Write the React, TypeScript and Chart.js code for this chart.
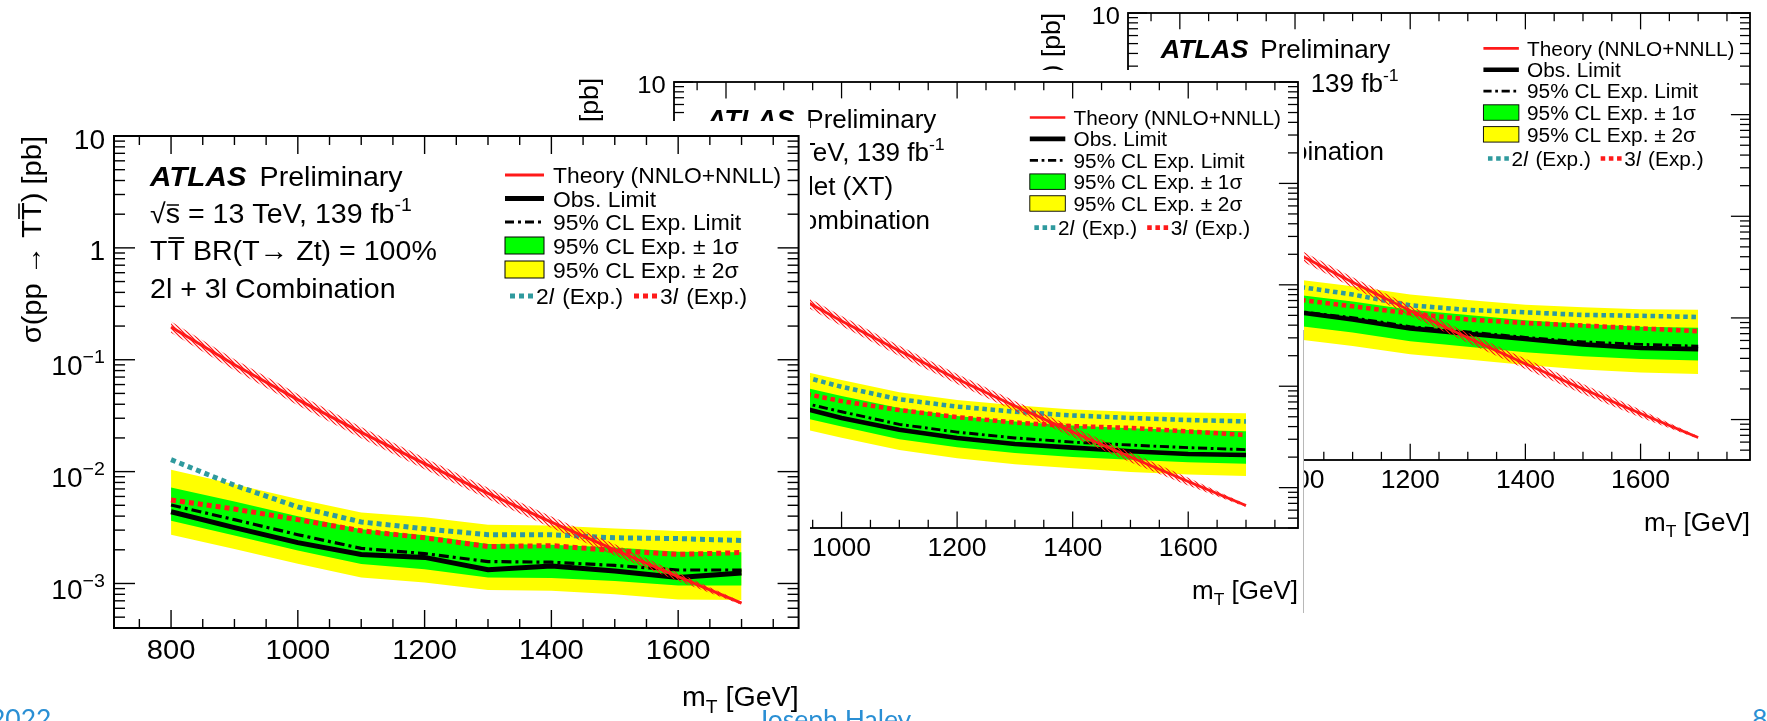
import React, { useEffect, useRef } from "react";
import { Chart, registerables } from "chart.js";

Chart.register(...registerables);

// ---------------- data ----------------
const masses = [800, 900, 1000, 1100, 1200, 1300, 1400, 1500, 1600, 1700];
const xMajorTicks = [800, 1000, 1200, 1400, 1600];
const yDecades = [10, 1, 0.1, 0.01, 0.001];
const yDecadeBase = ["10", "1", "10", "10", "10"];
const yDecadeExp = ["", "", "−1", "−2", "−3"];
const X_MIN = 710;
const X_MAX = 1790;
const Y_MIN = 4e-4;
const Y_MAX = 10;

// theory cross-section (NNLO+NNLL), pb
const theory = [0.196, 0.0903, 0.044, 0.0224, 0.0118, 0.00639, 0.00354, 0.002, 0.00115, 0.000666];
const theoryHi = [0.2195, 0.1011, 0.0493, 0.0251, 0.0132, 0.00716, 0.00396, 0.00224, 0.00125, 0.000686];
const theoryLo = [0.1744, 0.0804, 0.0392, 0.0199, 0.0105, 0.00569, 0.00315, 0.00178, 0.00105, 0.000646];

// front panel: BR(T -> Zt) = 100%
const ztObs = [4.38e-3, 3.16e-3, 2.32e-3, 1.82e-3, 1.71e-3, 1.33e-3, 1.43e-3, 1.29e-3, 1.13e-3, 1.24e-3];
const ztExp = [5.03e-3, 3.72e-3, 2.73e-3, 2.06e-3, 1.85e-3, 1.57e-3, 1.55e-3, 1.45e-3, 1.32e-3, 1.32e-3];
const ztOneUp = [7.2e-3, 5.4e-3, 4.0e-3, 3.05e-3, 2.7e-3, 2.25e-3, 2.22e-3, 2.1e-3, 1.92e-3, 1.9e-3];
const ztOneDn = [3.63e-3, 2.68e-3, 1.97e-3, 1.49e-3, 1.34e-3, 1.13e-3, 1.12e-3, 1.05e-3, 0.96e-3, 0.96e-3];
const ztTwoUp = [1.04e-2, 7.7e-3, 5.7e-3, 4.3e-3, 3.9e-3, 3.35e-3, 3.3e-3, 3.1e-3, 2.95e-3, 2.96e-3];
const ztTwoDn = [2.73e-3, 2.03e-3, 1.5e-3, 1.13e-3, 1.02e-3, 8.75e-4, 8.6e-4, 8.0e-4, 7.2e-4, 7.1e-4];
const zt2l = [1.28e-2, 7.55e-3, 4.83e-3, 3.55e-3, 3.08e-3, 2.73e-3, 2.73e-3, 2.56e-3, 2.52e-3, 2.42e-3];
const zt3l = [5.58e-3, 4.63e-3, 3.72e-3, 2.96e-3, 2.56e-3, 2.14e-3, 2.18e-3, 1.97e-3, 1.82e-3, 1.89e-3];

// middle panel: doublet (XT)
const xtObs = [9.5e-3, 6.8e-3, 4.87e-3, 3.73e-3, 3.09e-3, 2.7e-3, 2.48e-3, 2.29e-3, 2.15e-3, 2.1e-3];
const xtExp = [1.05e-2, 7.6e-3, 5.6e-3, 4.21e-3, 3.53e-3, 3.09e-3, 2.81e-3, 2.63e-3, 2.48e-3, 2.37e-3];
const xtOneUp = [1.5e-2, 1.08e-2, 8.0e-3, 6.1e-3, 5.1e-3, 4.5e-3, 4.1e-3, 3.85e-3, 3.7e-3, 3.6e-3];
const xtOneDn = [7.5e-3, 5.4e-3, 4.0e-3, 3.0e-3, 2.5e-3, 2.2e-3, 2.0e-3, 1.88e-3, 1.78e-3, 1.72e-3];
const xtTwoUp = [2.15e-2, 1.55e-2, 1.15e-2, 8.7e-3, 7.3e-3, 6.5e-3, 5.9e-3, 5.6e-3, 5.5e-3, 5.4e-3];
const xtTwoDn = [5.8e-3, 4.2e-3, 3.1e-3, 2.35e-3, 1.95e-3, 1.7e-3, 1.55e-3, 1.43e-3, 1.35e-3, 1.3e-3];
const xt2l = [1.95e-2, 1.4e-2, 9.86e-3, 7.43e-3, 6.3e-3, 5.6e-3, 5.15e-3, 4.87e-3, 4.64e-3, 4.5e-3];
const xt3l = [1.2e-2, 9.3e-3, 7.13e-3, 5.82e-3, 4.96e-3, 4.39e-3, 4.04e-3, 3.88e-3, 3.58e-3, 3.3e-3];

// back panel: singlet
const sgObs = [1.9e-2, 1.45e-2, 1.15e-2, 9.66e-3, 7.89e-3, 7.0e-3, 6.19e-3, 5.49e-3, 5.06e-3, 4.93e-3];
const sgExp = [1.95e-2, 1.5e-2, 1.17e-2, 1.005e-2, 8.2e-3, 7.28e-3, 6.44e-3, 5.81e-3, 5.49e-3, 5.27e-3];
const sgOneUp = [2.8e-2, 2.15e-2, 1.7e-2, 1.45e-2, 1.2e-2, 1.07e-2, 9.5e-3, 8.7e-3, 8.2e-3, 8.0e-3];
const sgOneDn = [1.4e-2, 1.08e-2, 8.4e-3, 7.2e-3, 5.9e-3, 5.2e-3, 4.6e-3, 4.2e-3, 3.95e-3, 3.81e-3];
const sgTwoUp = [4.0e-2, 3.1e-2, 2.4e-2, 2.05e-2, 1.7e-2, 1.5e-2, 1.35e-2, 1.27e-2, 1.22e-2, 1.2e-2];
const sgTwoDn = [1.05e-2, 8.0e-3, 6.2e-3, 5.3e-3, 4.4e-3, 3.9e-3, 3.45e-3, 3.1e-3, 2.9e-3, 2.8e-3];
const sg2l = [3.3e-2, 2.55e-2, 2.05e-2, 1.7e-2, 1.33e-2, 1.2e-2, 1.135e-2, 1.07e-2, 1.05e-2, 1.02e-2];
const sg3l = [2.3e-2, 1.85e-2, 1.53e-2, 1.3e-2, 1.11e-2, 9.66e-3, 8.91e-3, 8.41e-3, 7.89e-3, 7.4e-3];

const legendLabels = ["Theory (NNLO+NNLL)", "Obs. Limit", "95% CL Exp. Limit", "95% CL Exp. ± 1σ", "95% CL Exp. ± 2σ"];

// ---------------- styles ----------------
const FONT = '"Liberation Sans", Arial, Helvetica, "DejaVu Sans", sans-serif';
const HS = 1.04;
const C_YELLOW = "#ffff00";
const C_GREEN = "#00ff00";
const C_TEAL = "#2f9a9e";
const C_RED = "#ff1a1a";

type Series = { obs: number[]; exp: number[]; oneUp: number[]; oneDn: number[]; twoUp: number[]; twoDn: number[]; l2: number[]; l3: number[] };
type PanelDef = {
  key: string;
  z: number;
  img: { x: number; y: number; w: number; h: number };
  frame: { l: number; t: number; r: number; b: number };
  yTitleX: number;
  yTitleDy: number;
  s: number;
  kind: "zt" | "xt" | "sg";
  series: Series;
};

const PANELS: PanelDef[] = [
  {
    key: "back", z: 1,
    img: { x: 1000, y: 0, w: 767, h: 560 },
    frame: { l: 1128, t: 13, r: 1750, b: 460 },
    yTitleX: 1060, yTitleDy: 0,
    s: 0.909, kind: "sg",
    series: { obs: sgObs, exp: sgExp, oneUp: sgOneUp, oneDn: sgOneDn, twoUp: sgTwoUp, twoDn: sgTwoDn, l2: sg2l, l3: sg3l },
  },
  {
    key: "middle", z: 2,
    img: { x: 560, y: 70, w: 744, h: 543 },
    frame: { l: 674, t: 82, r: 1298, b: 528 },
    yTitleX: 598, yTitleDy: -4,
    s: 0.91, kind: "xt",
    series: { obs: xtObs, exp: xtExp, oneUp: xtOneUp, oneDn: xtOneDn, twoUp: xtTwoUp, twoDn: xtTwoDn, l2: xt2l, l3: xt3l },
  },
  {
    key: "front", z: 3,
    img: { x: 0, y: 121, w: 810, h: 600 },
    frame: { l: 114, t: 136, r: 798.6, b: 628 },
    yTitleX: 41, yTitleDy: 0,
    s: 1, kind: "zt",
    series: { obs: ztObs, exp: ztExp, oneUp: ztOneUp, oneDn: ztOneDn, twoUp: ztTwoUp, twoDn: ztTwoDn, l2: zt2l, l3: zt3l },
  },
];

const pts = (arr: number[]) => masses.map((m, i) => ({ x: m, y: arr[i] }));

function font(size: number, bold = false, italic = false) {
  return `${italic ? "italic " : ""}${bold ? "bold " : ""}${size.toFixed(1)}px ${FONT}`;
}

type Run = { t: string; f: string; dy?: number; over?: boolean; gap?: number };

function runsWidth(ctx: CanvasRenderingContext2D, runs: Run[]) {
  let w = 0;
  for (const r of runs) {
    ctx.font = r.f;
    w += ctx.measureText(r.t).width * HS + (r.gap || 0);
  }
  return w;
}

function drawRuns(ctx: CanvasRenderingContext2D, x: number, y: number, runs: Run[], lw = 1.5) {
  let cx = x;
  for (const r of runs) {
    ctx.font = r.f;
    const m = ctx.measureText(r.t);
    const w = m.width;
    ctx.save();
    ctx.translate(cx, y + (r.dy || 0));
    ctx.scale(HS, 1);
    ctx.fillText(r.t, 0, 0);
    if (r.over) {
      const a = m.actualBoundingBoxAscent + 3;
      ctx.lineWidth = lw;
      ctx.beginPath();
      ctx.moveTo(1, -a);
      ctx.lineTo(w - 1, -a);
      ctx.stroke();
    }
    ctx.restore();
    cx += w * HS + (r.gap || 0);
  }
  return cx;
}

function hatchPattern(ctx: CanvasRenderingContext2D) {
  const c = document.createElement("canvas");
  const n = 4;
  c.width = n;
  c.height = n;
  const g = c.getContext("2d")!;
  g.strokeStyle = "rgba(255,20,20,1)";
  g.lineWidth = 1.1;
  g.beginPath();
  g.moveTo(-1, -1);
  g.lineTo(n + 1, n + 1);
  g.moveTo(-1, n - 1);
  g.lineTo(1, n + 1);
  g.moveTo(n - 1, -1);
  g.lineTo(n + 1, 1);
  g.stroke();
  return ctx.createPattern(c, "repeat") as CanvasPattern;
}

function line(ctx: CanvasRenderingContext2D, x1: number, y1: number, x2: number, y2: number) {
  ctx.beginPath();
  ctx.moveTo(x1, y1);
  ctx.lineTo(x2, y2);
  ctx.stroke();
}

function drawDecor(chart: Chart, def: PanelDef) {
  const ctx = chart.ctx;
  const { left: L, top: T, right: R, bottom: B } = chart.chartArea;
  const s = def.s;
  const xs = chart.scales.x;
  const ys = chart.scales.y;
  ctx.save();
  ctx.fillStyle = "#000";
  ctx.strokeStyle = "#000";
  ctx.textBaseline = "alphabetic";

  // ticks
  ctx.lineWidth = 1.4 * s;
  for (let v = 750; v < X_MAX; v += 50) {
    const px = xs.getPixelForValue(v);
    const len = v % 200 === 0 ? 18 * s : 9 * s;
    line(ctx, px, B, px, B - len);
    line(ctx, px, T, px, T + len);
  }
  for (let d = -4; d <= 1; d++) {
    for (let k = 1; k <= 9; k++) {
      const v = k * Math.pow(10, d);
      if (v < Y_MIN * 0.999 || v > Y_MAX * 1.001) continue;
      const py = ys.getPixelForValue(v);
      const len = k === 1 ? 21 * s : 11 * s;
      line(ctx, L, py, L + len, py);
      line(ctx, R, py, R - len, py);
    }
  }
  // frame
  ctx.lineWidth = 2 * s;
  ctx.strokeRect(L, T, R - L, B - T);

  // y tick labels
  const tf = 27 * s;
  yDecades.forEach((v, i) => {
    const py = ys.getPixelForValue(v);
    const runs: Run[] = [{ t: yDecadeBase[i], f: font(tf) }];
    if (yDecadeExp[i]) runs.push({ t: yDecadeExp[i], f: font(tf * 0.7), dy: -12 * s });
    const w = runsWidth(ctx, runs);
    drawRuns(ctx, L - 9 * s - w, py + (yDecadeExp[i] ? 15.5 : 12.5) * s, runs);
  });
  // x tick labels
  xMajorTicks.forEach((v) => {
    const px = xs.getPixelForValue(v);
    const runs: Run[] = [{ t: String(v), f: font(28 * s) }];
    const w = runsWidth(ctx, runs);
    drawRuns(ctx, px - w / 2, B + 31 * s, runs);
  });

  // axis titles
  {
    const runs: Run[] = [
      { t: "m", f: font(27.5 * s) },
      { t: "T", f: font(18.5 * s), dy: 7 * s },
      { t: " [GeV]", f: font(27.5 * s) },
    ];
    const w = runsWidth(ctx, runs);
    drawRuns(ctx, R - w, B + 78 * s, runs);
  }
  {
    const yf = font(28 * s);
    const runs: Run[] = [
      { t: "σ(pp → T", f: yf },
      { t: "T", f: yf, over: true },
      { t: ") [pb]", f: yf },
    ];
    const w = runsWidth(ctx, runs);
    ctx.save();
    ctx.translate(def.yTitleX - def.img.x, T + def.yTitleDy);
    ctx.rotate(-Math.PI / 2);
    drawRuns(ctx, -w, 0, runs, 1.6 * s);
    ctx.restore();
  }

  // ATLAS text block
  const tx = L + 36 * s;
  const fs = 27.5 * s;
  let x = drawRuns(ctx, tx, T + 50 * s, [{ t: "ATLAS", f: font(28.5 * s, true, true) }]);
  drawRuns(ctx, x + 13 * s, T + 50 * s, [{ t: "Preliminary", f: font(fs) }]);
  drawRuns(ctx, tx, T + 87 * s, [
    { t: "√", f: font(fs) },
    { t: "s", f: font(fs), over: true },
    { t: " = 13 TeV, 139 fb", f: font(fs) },
    { t: "-1", f: font(fs * 0.68), dy: -12 * s },
  ], 1.5 * s);
  const third = def.kind === "zt" ? " BR(T→ Zt) = 100%" : def.kind === "xt" ? " Doublet (XT)" : " Singlet";
  drawRuns(ctx, tx, T + 124 * s, [
    { t: "T", f: font(fs) },
    { t: "T", f: font(fs), over: true },
    { t: third, f: font(fs) },
  ], 1.8 * s);
  drawRuns(ctx, tx, T + 161.5 * s, [{ t: "2l + 3l Combination", f: font(fs) }]);

  // legend
  const lf = font(22 * s);
  const sx0 = L + 391 * s;
  const sx1 = L + 430 * s;
  const ltx = L + 439 * s;
  const rows = [47, 70.5, 94, 118, 142, 168].map((v) => T + v * s);
  const mid = (i: number) => rows[i] - 8 * s;
  legendLabels.forEach((lab, i) => drawRuns(ctx, ltx, rows[i], [{ t: lab, f: lf }]));
  ctx.lineCap = "butt";
  ctx.strokeStyle = C_RED;
  ctx.lineWidth = 3 * s;
  line(ctx, sx0, mid(0), sx1, mid(0));
  ctx.strokeStyle = "#000";
  ctx.lineWidth = 5 * s;
  line(ctx, sx0, mid(1), sx1, mid(1));
  ctx.lineWidth = 3 * s;
  ctx.setLineDash([9 * s, 4 * s, 3 * s, 4 * s]);
  line(ctx, sx0, mid(2), sx1, mid(2));
  ctx.setLineDash([]);
  const box = (i: number, c: string) => {
    ctx.fillStyle = c;
    ctx.fillRect(sx0, rows[i] - 17 * s, sx1 - sx0, 17 * s);
    ctx.strokeStyle = "#000";
    ctx.lineWidth = 1 * s;
    ctx.strokeRect(sx0, rows[i] - 17 * s, sx1 - sx0, 17 * s);
  };
  box(3, C_GREEN);
  box(4, C_YELLOW);
  ctx.fillStyle = "#000";
  ctx.lineWidth = 5 * s;
  ctx.setLineDash([5 * s, 4 * s]);
  ctx.strokeStyle = C_TEAL;
  line(ctx, L + 396 * s, mid(5), L + 420 * s, mid(5));
  ctx.strokeStyle = C_RED;
  line(ctx, L + 520 * s, mid(5), L + 543 * s, mid(5));
  ctx.setLineDash([]);
  const it = font(22 * s, false, true);
  drawRuns(ctx, L + 422 * s, rows[5], [{ t: "2", f: lf }, { t: "l", f: it, gap: 2 * s }, { t: " (Exp.)", f: lf }]);
  drawRuns(ctx, L + 546 * s, rows[5], [{ t: "3", f: lf }, { t: "l", f: it, gap: 2 * s }, { t: " (Exp.)", f: lf }]);
  ctx.restore();
}

function Panel({ def }: { def: PanelDef }) {
  const ref = useRef<HTMLCanvasElement | null>(null);
  useEffect(() => {
    const cv = ref.current!;
    const ctx = cv.getContext("2d")!;
    const s = def.s;
    const sr = def.series;
    const hatch = hatchPattern(ctx);
    const base = { pointRadius: 0, tension: 0, spanGaps: true };
    const chart = new Chart(cv, {
      type: "line",
      data: {
        datasets: [
          { ...base, label: "2s up", data: pts(sr.twoUp), borderWidth: 0, borderColor: C_YELLOW, backgroundColor: C_YELLOW, fill: "+1", order: 20 },
          { ...base, label: "2s dn", data: pts(sr.twoDn), borderWidth: 0, borderColor: C_YELLOW, fill: false, order: 20 },
          { ...base, label: "1s up", data: pts(sr.oneUp), borderWidth: 0, borderColor: C_GREEN, backgroundColor: C_GREEN, fill: "+1", order: 19 },
          { ...base, label: "1s dn", data: pts(sr.oneDn), borderWidth: 0, borderColor: C_GREEN, fill: false, order: 19 },
          { ...base, label: "2l", data: pts(sr.l2), borderWidth: 5 * s, borderColor: C_TEAL, borderDash: [5 * s, 4 * s], fill: false, order: 10 },
          { ...base, label: "3l", data: pts(sr.l3), borderWidth: 5 * s, borderColor: C_RED, borderDash: [5 * s, 4 * s], fill: false, order: 9 },
          { ...base, label: "exp", data: pts(sr.exp), borderWidth: 3.2 * s, borderColor: "#000", borderDash: [10 * s, 4 * s, 3 * s, 4 * s], fill: false, order: 8 },
          { ...base, label: "obs", data: pts(sr.obs), borderWidth: 5 * s, borderColor: "#000", fill: false, order: 7 },
          { ...base, label: "th up", data: pts(theoryHi), borderWidth: 0, borderColor: C_RED, backgroundColor: hatch, fill: "+1", order: 3 },
          { ...base, label: "th dn", data: pts(theoryLo), borderWidth: 0, borderColor: C_RED, fill: false, order: 3 },
          { ...base, label: "theory", data: pts(theory), borderWidth: 3 * s, borderColor: C_RED, fill: false, order: 1 },
        ],
      },
      options: {
        responsive: false,
        animation: false,
        events: [],
        layout: {
          padding: {
            left: def.frame.l - def.img.x,
            top: def.frame.t - def.img.y,
            right: def.img.x + def.img.w - def.frame.r,
            bottom: def.img.y + def.img.h - def.frame.b,
          },
        },
        scales: {
          x: { type: "linear", min: X_MIN, max: X_MAX, display: false },
          y: { type: "logarithmic", min: Y_MIN, max: Y_MAX, display: false },
        },
        plugins: {
          legend: { display: false },
          tooltip: { enabled: false },
          title: { display: false },
        },
      },
      plugins: [
        {
          id: "rootDecor-" + def.key,
          beforeDraw: (c: Chart) => {
            const g = c.ctx;
            g.save();
            g.fillStyle = "#fff";
            g.fillRect(0, 0, c.width, c.height);
            g.restore();
          },
          afterDraw: (c: Chart) => drawDecor(c, def),
        },
      ],
    });
    return () => chart.destroy();
  }, [def]);
  return (
    <div style={{ position: "absolute", left: def.img.x, top: def.img.y, width: def.img.w, height: def.img.h, background: "#fff", zIndex: def.z, overflow: "hidden" }}>
      <canvas ref={ref} width={def.img.w} height={def.img.h} style={{ width: def.img.w, height: def.img.h, display: "block" }} />
    </div>
  );
}

const footerStyle: React.CSSProperties = {
  position: "absolute",
  color: "#2a8fd4",
  fontFamily: "Lato, 'Open Sans', sans-serif",
  fontSize: 26.5,
  lineHeight: "27px",
  whiteSpace: "nowrap",
  zIndex: 5,
};

export default function App() {
  return (
    <div style={{ position: "fixed", left: 0, top: 0, width: 1767, height: 721, background: "#fff", overflow: "hidden" }}>
      {PANELS.map((p) => (
        <Panel key={p.key} def={p} />
      ))}
      <div style={{ position: "absolute", left: 1303, top: 330, width: 1, height: 283, background: "#b8b8b8", zIndex: 4 }} />
      <div style={{ ...footerStyle, left: -10, top: 705 }}>2022</div>
      <div style={{ ...footerStyle, left: 757, top: 706 }}>Joseph Haley</div>
      <div style={{ ...footerStyle, left: 1752, top: 705 }}>8</div>
    </div>
  );
}
